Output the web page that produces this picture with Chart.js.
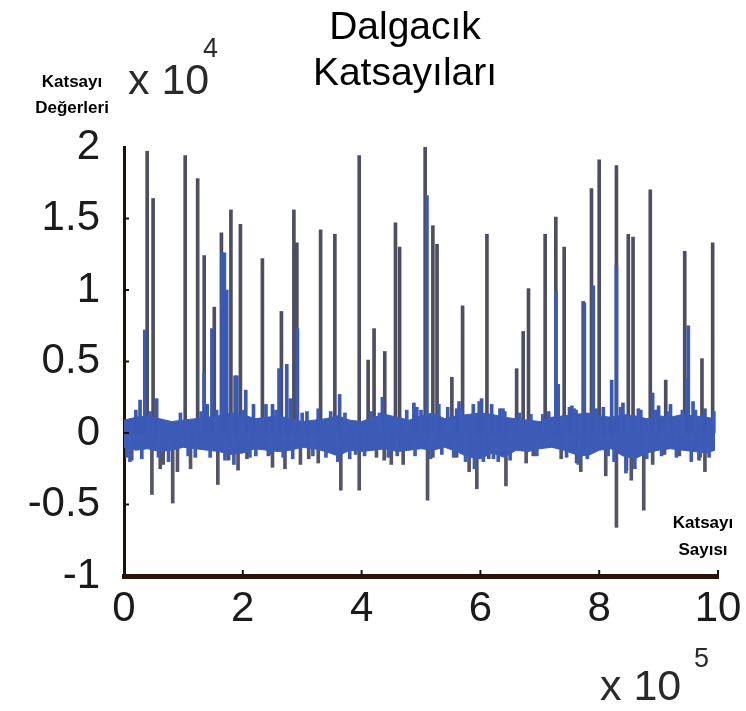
<!DOCTYPE html>
<html>
<head>
<meta charset="utf-8">
<script src="https://cdn.jsdelivr.net/npm/chart.js@4"></script>
<style>
  html, body { margin: 0; padding: 0; background: #fff; }
  #dalgacik { display: block; }
</style>
</head>
<body>
<canvas id="dalgacik" width="746" height="711"></canvas>
<script>
// Katsayı sayısı (x 10^5) ve katsayı değerleri (x 10^4)

// gürültü bandının üst ve alt sınırı
const bandX = [0, 0.2, 0.4, 0.6, 0.8, 1.0, 1.2, 1.4, 1.6, 1.8, 2.0, 2.2, 2.4, 2.6, 2.8, 3.0, 3.2, 3.4, 3.6, 3.8,
  4.0, 4.2, 4.4, 4.6, 4.8, 5.0, 5.2, 5.4, 5.6, 5.8, 6.0, 6.2, 6.4, 6.6, 6.8, 7.0, 7.2, 7.4, 7.6, 7.8,
  8.0, 8.2, 8.4, 8.6, 8.8, 9.0, 9.2, 9.4, 9.6, 9.8, 9.95];
const bandUst = [0.09, 0.11, 0.12, 0.10, 0.08, 0.09, 0.10, 0.11, 0.12, 0.14, 0.13, 0.10, 0.11, 0.12, 0.10, 0.08, 0.09, 0.10, 0.12, 0.09,
  0.08, 0.11, 0.13, 0.11, 0.09, 0.12, 0.14, 0.10, 0.12, 0.13, 0.14, 0.13, 0.11, 0.10, 0.09, 0.08, 0.11, 0.12, 0.13, 0.14,
  0.12, 0.11, 0.13, 0.12, 0.10, 0.12, 0.11, 0.13, 0.12, 0.11, 0.10];
const bandAlt = [-0.10, -0.12, -0.11, -0.13, -0.12, -0.10, -0.11, -0.12, -0.13, -0.15, -0.14, -0.11, -0.12, -0.13, -0.12, -0.10, -0.11, -0.13, -0.16, -0.12,
  -0.13, -0.12, -0.11, -0.13, -0.12, -0.11, -0.12, -0.10, -0.13, -0.17, -0.18, -0.14, -0.17, -0.12, -0.13, -0.11, -0.10, -0.12, -0.15, -0.16,
  -0.12, -0.11, -0.16, -0.18, -0.14, -0.12, -0.11, -0.12, -0.13, -0.14, -0.12];

// uzun gri tepeler
const griX = [0.39, 0.49, 1.03, 1.24, 1.35, 1.52, 1.64, 1.80, 1.96, 2.33, 2.65, 2.86, 2.91, 3.31, 3.55, 3.96, 4.11, 4.21, 4.39, 4.57, 4.64,
  5.07, 5.20, 5.27, 5.52, 5.70, 6.11, 6.61, 6.72, 6.81, 7.09, 7.27, 7.41, 7.73, 7.87, 8.00, 8.29, 8.49, 8.57, 8.86, 9.12, 9.44, 9.73, 9.91];
const griY = [1.97, 1.64, 1.94, 1.78, 1.24, 0.88, 1.40, 1.56, 1.46, 1.22, 0.85, 1.56, 1.33, 1.42, 1.39, 1.94, 0.51, 0.73, 0.57, 1.47, 1.30,
  2.00, 1.45, 1.32, 0.39, 0.89, 1.39, 0.45, 0.71, 1.01, 1.39, 1.51, 1.30, 0.92, 1.71, 1.91, 1.87, 1.39, 1.37, 1.70, 0.37, 1.27, 0.52, 1.33];

// negatif gri tepeler
const negX = [0.13, 0.47, 0.61, 0.66, 0.82, 0.90, 1.12, 1.58, 1.76, 1.92, 2.07, 2.43, 2.50, 2.71, 2.97, 3.11, 3.27, 3.65, 3.96, 4.25, 4.38, 4.50, 4.70,
  5.11, 5.20, 5.60, 5.81, 5.94, 6.14, 6.43, 6.77, 6.89, 7.36, 7.62, 7.69, 8.11, 8.29, 8.46, 8.54, 8.75, 8.90, 9.10, 9.35, 9.68, 9.78];
const negY = [-0.19, -0.43, -0.25, -0.22, -0.49, -0.27, -0.25, -0.36, -0.19, -0.26, -0.18, -0.16, -0.24, -0.25, -0.22, -0.18, -0.21, -0.40, -0.40, -0.17, -0.19, -0.22, -0.22,
  -0.47, -0.17, -0.17, -0.27, -0.39, -0.18, -0.37, -0.21, -0.16, -0.18, -0.21, -0.27, -0.30, -0.66, -0.26, -0.33, -0.54, -0.22, -0.15, -0.16, -0.19, -0.27];

// mavi (orta boy) tepeler
const maviX = [0.20, 0.27, 0.35, 0.55, 1.35, 1.40, 1.48, 1.65, 1.69, 1.73, 1.87, 1.90, 2.05, 2.18, 2.39, 2.50, 2.61, 2.74, 2.80, 2.92, 3.08, 3.27, 3.63, 4.35,
  4.88, 4.93, 5.10, 5.30, 5.60, 5.64, 5.98, 6.02, 6.19, 6.33, 6.41, 7.27, 7.31, 7.50, 7.54, 7.61, 7.75, 7.90, 8.07, 8.21, 8.29, 8.40, 8.70, 8.90, 9.00, 9.20, 9.48, 9.50, 9.58, 9.78];
const maviY = [0.16, 0.23, 0.72, 0.24, 0.42, 0.20, 0.73, 1.26, 1.26, 1.00, 0.40, 0.40, 0.30, 0.20, 0.20, 0.20, 0.45, 0.48, 0.24, 0.73, 0.15, 0.17, 0.27, 0.25,
  0.21, 0.18, 1.66, 0.20, 0.17, 0.22, 0.22, 0.24, 0.20, 0.17, 0.15, 0.99, 0.34, 0.18, 0.19, 0.16, 0.91, 1.03, 0.18, 0.37, 1.17, 0.21, 0.16, 0.28, 0.19, 0.20, 0.38, 0.75, 0.22, 0.17];

// bandın kenarındaki küçük mavi çıkıntılar
const kucukX = [0.05, 0.10, 0.30, 0.44, 0.58, 0.75, 0.95, 1.08, 1.20, 1.30, 1.45, 1.56, 1.70, 1.85, 2.00, 2.12, 2.22, 2.46, 2.56, 2.68, 2.84, 3.00, 3.18, 3.40, 3.48, 3.60,
  3.72, 3.80, 3.90, 4.05, 4.16, 4.30, 4.45, 4.60, 4.76, 4.90, 5.00, 5.16, 5.35, 5.45, 5.55, 5.68, 5.75, 5.88, 5.90, 6.05, 6.22, 6.30, 6.38, 6.50, 6.66, 6.85,
  6.95, 7.05, 7.15, 7.45, 7.58, 7.65, 7.80, 7.95, 8.15, 8.25, 8.36, 8.45, 8.60, 8.66, 8.80, 8.95, 9.05, 9.16, 9.30, 9.40, 9.55, 9.62, 9.70, 9.85, 9.93];
const kucukY = [-0.17, -0.20, -0.18, 0.15, -0.17, -0.20, 0.14, -0.16, -0.17, 0.15, -0.17, 0.16, -0.19, -0.22, 0.16, -0.17, -0.16, -0.15, 0.16, -0.17, -0.18, 0.14, -0.16, -0.17, 0.15, -0.20,
  0.14, -0.18, -0.15, -0.16, 0.15, 0.14, -0.17, -0.16, 0.16, -0.16, 0.16, -0.18, -0.15, 0.18, -0.17, 0.17, -0.20, 0.20, -0.25, -0.20, -0.18, -0.20, 0.17, -0.19, 0.14, 0.13,
  -0.16, 0.13, 0.15, -0.17, 0.17, -0.22, -0.18, 0.17, -0.16, -0.20, 0.18, -0.28, -0.25, 0.17, -0.18, 0.16, -0.16, 0.15, -0.17, 0.16, -0.20, 0.16, -0.17, -0.17, 0.15];

const noktalar = (xs, ys) => xs.map((x, i) => ({ x: x, y: ys[i] }));

const yaziFont = 'Liberation Sans, Arial, sans-serif';

// başlık, eksen adları ve "x 10" yazıları, ayrıca içe bakan çentikler
const yazilar = {
  id: 'yazilar',
  afterDraw(chart) {
    const c = chart.ctx;
    const xs = chart.scales.x, ys = chart.scales.y;
    const alan = chart.chartArea;
    c.save();

    // çentikler
    c.strokeStyle = '#1e1208';
    c.lineWidth = 2;
    ys.ticks.forEach(t => {
      if (t.value === -1 || t.value === 2) return;
      const py = ys.getPixelForValue(t.value);
      c.beginPath(); c.moveTo(alan.left, py); c.lineTo(alan.left + 5, py); c.stroke();
    });
    xs.ticks.forEach(t => {
      if (t.value === 0) return;
      const px = xs.getPixelForValue(t.value);
      c.beginPath(); c.moveTo(px, alan.bottom); c.lineTo(px, alan.bottom - 6); c.stroke();
    });

    c.fillStyle = '#000';
    c.textAlign = 'center';
    c.textBaseline = 'middle';
    c.font = '39px ' + yaziFont;
    c.fillText('Dalgacık', 405, 28);
    c.fillText('Katsayıları', 405, 74);

    c.font = 'bold 17px ' + yaziFont;
    c.fillText('Katsayı', 72, 82);
    c.fillText('Değerleri', 72, 108);
    c.fillText('Katsayı', 703, 523);
    c.fillText('Sayısı', 703, 550);

    c.fillStyle = '#2a2a2a';
    c.textAlign = 'left';
    c.font = '43px ' + yaziFont;
    c.fillText('x 10', 128, 82);
    c.fillText('x 10', 600, 688);
    c.font = '27px ' + yaziFont;
    c.fillText('4', 203, 50);
    c.fillText('5', 694, 660);
    c.restore();
  }
};

const ctx = document.getElementById('dalgacik').getContext('2d');

new Chart(ctx, {
  type: 'bar',
  data: {
    datasets: [
      {
        type: 'bar',
        data: noktalar(griX, griY),
        backgroundColor: '#4e4e63',
        barThickness: 3,
        grouped: false,
        order: 4
      },
      {
        type: 'bar',
        data: noktalar(negX, negY),
        backgroundColor: '#55556a',
        barThickness: 3,
        grouped: false,
        order: 4
      },
      {
        type: 'line',
        data: noktalar(bandX, bandUst),
        borderColor: '#3c5bb6',
        backgroundColor: '#3c5bb6',
        borderWidth: 1,
        pointRadius: 0,
        tension: 0,
        fill: '+1',
        order: 2
      },
      {
        type: 'line',
        data: noktalar(bandX, bandAlt),
        borderColor: '#3c5bb6',
        borderWidth: 1,
        pointRadius: 0,
        tension: 0,
        fill: false,
        order: 2
      },
      {
        type: 'bar',
        data: noktalar(kucukX, kucukY),
        backgroundColor: '#3d5cb7',
        barThickness: 3,
        grouped: false,
        order: 1
      },
      {
        type: 'bar',
        data: noktalar(maviX, maviY),
        backgroundColor: '#3a59b4',
        barThickness: 3,
        grouped: false,
        order: 1
      }
    ]
  },
  options: {
    responsive: false,
    animation: false,
    layout: {
      padding: { top: 147, right: 28, left: 0, bottom: 0 }
    },
    plugins: {
      legend: { display: false },
      tooltip: { enabled: false }
    },
    scales: {
      x: {
        type: 'linear',
        min: 0,
        max: 10,
        offset: false,
        grid: { display: false, offset: false },
        border: { display: true, color: '#2a140a', width: 5 },
        ticks: {
          stepSize: 2,
          padding: 0,
          color: '#1b1b1b',
          font: { family: yaziFont, size: 42 },
          maxRotation: 0
        },
        afterFit: s => { s.height = 135; }
      },
      y: {
        min: -1,
        max: 2,
        grid: { display: false, drawTicks: false },
        border: { display: true, color: '#1e1208', width: 3 },
        ticks: {
          stepSize: 0.5,
          padding: 24,
          color: '#1b1b1b',
          font: { family: yaziFont, size: 42 },
          callback: v => String(v)
        },
        afterFit: s => { s.width = 124; }
      }
    }
  },
  plugins: [yazilar]
});
</script>
</body>
</html>
